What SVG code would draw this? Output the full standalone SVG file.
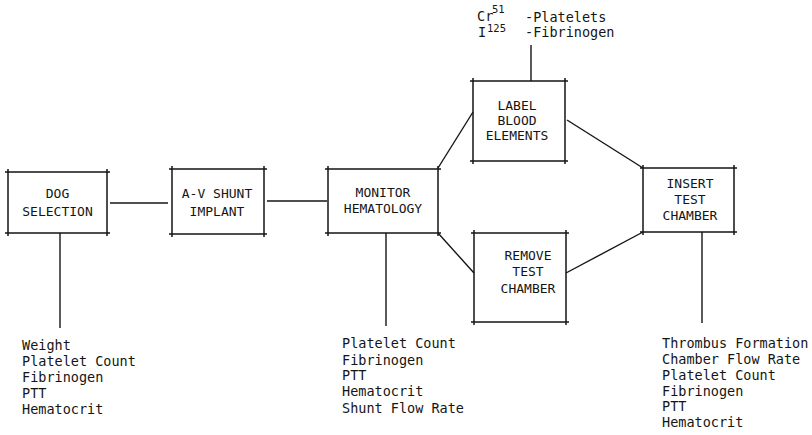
<svg xmlns="http://www.w3.org/2000/svg" width="812" height="435" viewBox="0 0 812 435">
<style>
  .box { fill: none; stroke: #151515; stroke-width: 1.5; }
  .con { fill: none; stroke: #151515; stroke-width: 1.4; }
  .lbl { font-family: "DejaVu Sans Mono", "Liberation Mono", monospace; font-size: 13px; fill: #151515; text-anchor: middle; }
  .lst { font-family: "DejaVu Sans Mono", "Liberation Mono", monospace; font-size: 13.5px; fill: #151515; }
  .sup { font-family: "DejaVu Sans Mono", "Liberation Mono", monospace; font-size: 10.5px; fill: #151515; }
</style>
<rect width="812" height="435" fill="#ffffff"/>
<g id="connectors">
  <path class="con" d="M110 203 H168"/>
  <path class="con" d="M267 201 H327"/>
  <path class="con" d="M438 168 L473 112"/>
  <path class="con" d="M438 233 L474 273"/>
  <path class="con" d="M567 120 L643 168"/>
  <path class="con" d="M566 273 L643 232"/>
  <path class="con" d="M531 81 V45"/>
  <path class="con" d="M60 233 V328"/>
  <path class="con" d="M386 233 V326"/>
  <path class="con" d="M702 232 V323"/>
</g>
<g id="dog-selection">
  <path class="box" d="M5 172 H110 M5 233 H110 M8 169 V236 M107 169 V236"/>
  <text class="lbl" x="57.5" y="198">DOG</text>
  <text class="lbl" x="57.5" y="216">SELECTION</text>
</g>
<g id="av-shunt">
  <path class="box" d="M169 169 H267 M169 234 H267 M172 166 V237 M264 166 V237"/>
  <text class="lbl" x="217" y="198">A-V SHUNT</text>
  <text class="lbl" x="217" y="216">IMPLANT</text>
</g>
<g id="monitor">
  <path class="box" d="M325 169 H441 M325 233 H441 M328 166 V236 M438 166 V236"/>
  <text class="lbl" x="383" y="197">MONITOR</text>
  <text class="lbl" x="383" y="213">HEMATOLOGY</text>
</g>
<g id="label-blood">
  <path class="box" d="M470 81 H568 M470 161 H568 M473 78 V164 M565 78 V164"/>
  <text class="lbl" x="517" y="110">LABEL</text>
  <text class="lbl" x="517" y="125">BLOOD</text>
  <text class="lbl" x="517" y="140">ELEMENTS</text>
</g>
<g id="isotopes">
  <text class="lst" x="477" y="21">Cr</text>
  <text class="sup" x="492" y="13">51</text>
  <text class="lst" x="478" y="37">I</text>
  <text class="sup" x="487" y="32">125</text>
  <text class="lst" x="525" y="22">-Platelets</text>
  <text class="lst" x="525" y="37">-Fibrinogen</text>
</g>
<g id="remove-test">
  <path class="box" d="M471 233 H569 M471 322 H569 M474 230 V325 M566 230 V325"/>
  <text class="lbl" x="528" y="260">REMOVE</text>
  <text class="lbl" x="528" y="276">TEST</text>
  <text class="lbl" x="528" y="293">CHAMBER</text>
</g>
<g id="insert-test">
  <path class="box" d="M640 168 H737 M640 232 H737 M643 165 V235 M734 165 V235"/>
  <text class="lbl" x="690" y="188">INSERT</text>
  <text class="lbl" x="690" y="204">TEST</text>
  <text class="lbl" x="690" y="220">CHAMBER</text>
</g>
<g id="dog-params">
  <text class="lst" x="22" y="350">Weight</text>
  <text class="lst" x="22" y="366">Platelet Count</text>
  <text class="lst" x="22" y="382">Fibrinogen</text>
  <text class="lst" x="22" y="398">PTT</text>
  <text class="lst" x="22" y="414">Hematocrit</text>
</g>
<g id="monitor-params">
  <text class="lst" x="342" y="348">Platelet Count</text>
  <text class="lst" x="342" y="365">Fibrinogen</text>
  <text class="lst" x="342" y="380">PTT</text>
  <text class="lst" x="342" y="396">Hematocrit</text>
  <text class="lst" x="342" y="413">Shunt Flow Rate</text>
</g>
<g id="insert-params">
  <text class="lst" x="662" y="348">Thrombus Formation</text>
  <text class="lst" x="662" y="364">Chamber Flow Rate</text>
  <text class="lst" x="662" y="380">Platelet Count</text>
  <text class="lst" x="662" y="396">Fibrinogen</text>
  <text class="lst" x="662" y="411">PTT</text>
  <text class="lst" x="662" y="427">Hematocrit</text>
</g>
</svg>
